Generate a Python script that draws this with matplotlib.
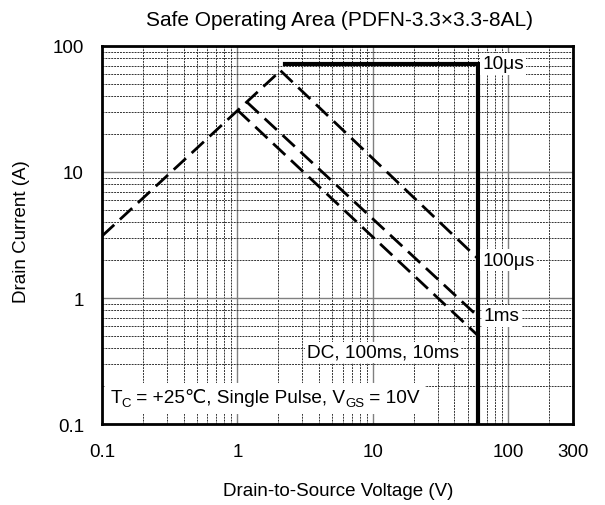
import matplotlib
matplotlib.use("Agg")
import matplotlib.pyplot as plt
from matplotlib.ticker import NullFormatter, LogLocator
from matplotlib.patches import Rectangle
from matplotlib.transforms import Bbox

plt.rcParams['font.family'] = ['Liberation Sans', 'DejaVu Sans']

# Data
rds_v = [0.1, 2.08]
rds_i = [3.1, 63.7]
us10_v = [2.25, 60, 60]
us10_i = [72, 72, 0.1]
us100_v = [2.08, 60]
us100_i = [63.7, 2.04]
ms1_v = [1.17, 60]
ms1_i = [36, 0.71]
dc_v = [1.0, 60]
dc_i = [31, 0.5]

x_ticks = [0.1, 1, 10, 100, 300]
x_ticklabels = ["0.1", "1", "10", "100", "300"]
y_ticks = [0.1, 1, 10, 100]
y_ticklabels = ["0.1", "1", "10", "100"]

fig = plt.figure(figsize=(6.05, 5.06), dpi=100)
ax = fig.add_axes([102/605, 1-425/506, (573-102)/605, (425-47)/506])
ax.set_xscale('log')
ax.set_yscale('log')
ax.set_xlim(0.1, 300)
ax.set_ylim(0.1, 100)

ax.set_xticks(x_ticks)
ax.set_xticklabels(x_ticklabels)
ax.set_yticks(y_ticks)
ax.set_yticklabels(y_ticklabels)
ax.xaxis.set_minor_locator(LogLocator(base=10, subs=range(2, 10)))
ax.yaxis.set_minor_locator(LogLocator(base=10, subs=range(2, 10)))
ax.xaxis.set_minor_formatter(NullFormatter())
ax.yaxis.set_minor_formatter(NullFormatter())
ax.tick_params(which='both', length=0, labelsize=13.5)
ax.tick_params(axis='x', pad=14)
ax.tick_params(axis='y', pad=13)

ax.grid(True, which='major', color='#808080', linestyle='-', linewidth=1.0, zorder=0)
ax.grid(True, which='minor', color='#333333', linestyle=(0, (2, 1)), linewidth=0.7, zorder=0)
for sp in ax.spines.values():
    sp.set_linewidth(2.0)

dash = (0, (6, 2.8))
lw = 2.0
ax.plot(rds_v, rds_i, color='black', linewidth=lw, linestyle=dash, zorder=3)
ax.plot(us100_v, us100_i, color='black', linewidth=lw, linestyle=dash, zorder=3)
ax.plot(ms1_v, ms1_i, color='black', linewidth=lw, linestyle=dash, zorder=3)
ax.plot(dc_v, dc_i, color='black', linewidth=lw, linestyle=dash, zorder=3)
ax.plot(us10_v, us10_i, color='black', linewidth=3.0, linestyle='-', zorder=4,
        solid_joinstyle='miter')

box = dict(facecolor='white', edgecolor='none', pad=1.5)
fs = 13.7
ax.text(64, 72, "10μs", fontsize=fs, va='center', ha='left', bbox=box, zorder=5)
ax.text(64, 2.0, "100μs", fontsize=fs, va='center', ha='left', bbox=box, zorder=5)
ax.text(66, 0.72, "1ms", fontsize=fs, va='center', ha='left', bbox=box, zorder=5)
ax.text(43.5, 0.372, "DC, 100ms, 10ms", fontsize=fs, va='center', ha='right', bbox=box, zorder=5)

# Condition note with subscripts, built from pieces (keeps the ℃ glyph via font fallback)
note_x, note_y = 0.115, 0.163
pieces = [("T", False), ("C", True), (" = +25℃, Single Pulse, V", False), ("GS", True), (" = 10V", False)]
sub_fs = fs * 0.7
prev = ax.text(note_x, note_y, pieces[0][0], fontsize=fs, va='center', ha='left', zorder=6)
note_texts = [prev]
prev_sub = False
for s, is_sub in pieces[1:]:
    if is_sub:
        prev = ax.annotate(s, xy=(1, 0), xycoords=prev, xytext=(0, -2.0), textcoords='offset points',
                           fontsize=sub_fs, va='bottom', ha='left', zorder=6)
    else:
        prev = ax.annotate(s, xy=(1, 0), xycoords=prev, xytext=(0, 2.0 if prev_sub else 0),
                           textcoords='offset points', fontsize=fs, va='bottom', ha='left', zorder=6)
    note_texts.append(prev)
    prev_sub = is_sub

# white background behind the note, sized from the rendered pieces
fig.canvas.draw()
renderer = fig.canvas.get_renderer()
bb = Bbox.union([t.get_window_extent(renderer) for t in note_texts])
pad_px = 5
bb = Bbox.from_extents(bb.x0 - pad_px, bb.y0 - pad_px, bb.x1 + pad_px, bb.y1 + pad_px)
bb_ax = bb.transformed(ax.transAxes.inverted())
ax.add_patch(Rectangle((bb_ax.x0, bb_ax.y0), bb_ax.width, bb_ax.height, transform=ax.transAxes,
                       facecolor='white', edgecolor='none', zorder=5))

fig.text(340/605, 1-20/506, "Safe Operating Area (PDFN-3.3×3.3-8AL)", fontsize=15,
         ha='center', va='center')
fig.text(338/605, 1-492/506, "Drain-to-Source Voltage (V)", fontsize=13.5,
         ha='center', va='center')
fig.text(22/605, 1-232/506, "Drain Current (A)", fontsize=13.5, rotation=90,
         ha='center', va='center')

fig.savefig("out.png", dpi=100)
